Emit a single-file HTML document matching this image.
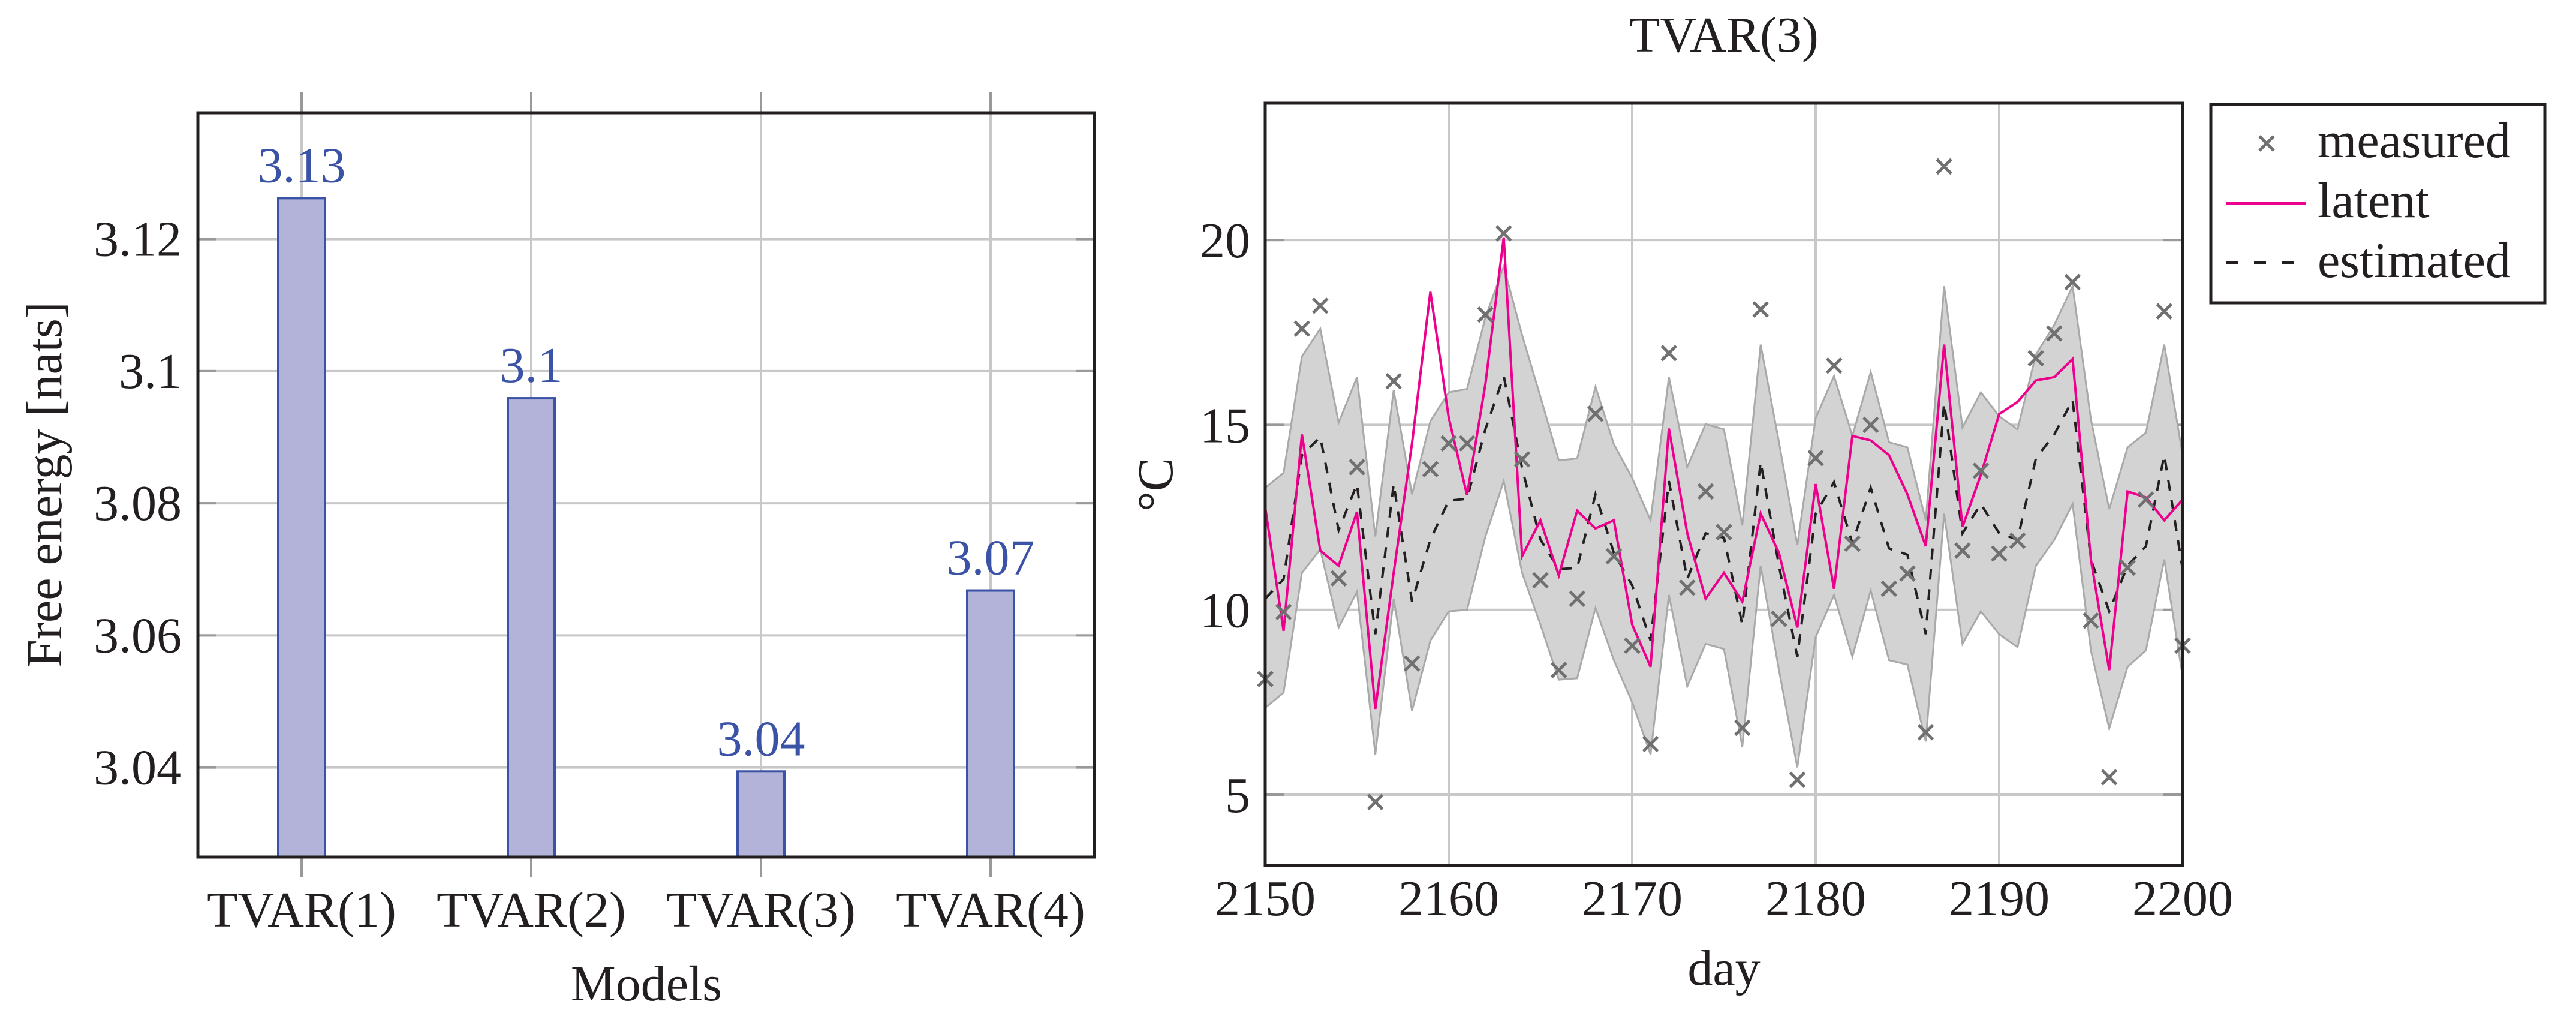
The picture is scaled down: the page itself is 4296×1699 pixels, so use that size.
<!DOCTYPE html>
<html><head><meta charset="utf-8"><style>
html,body{margin:0;padding:0;background:#fff;}
svg{display:block;font-family:"Liberation Serif","DejaVu Serif",serif;}
text{font-family:"Liberation Serif","DejaVu Serif",serif;}
</style></head><body>
<svg id="fig" width="4296" height="1699" viewBox="0 0 4296 1699" xmlns="http://www.w3.org/2000/svg"></svg>
<script>
// ---- bar chart data ----
const models = ["TVAR(1)","TVAR(2)","TVAR(3)","TVAR(4)"];
const freeEnergy = [3.1262, 3.0959, 3.0394, 3.0668];
const barLabels = ["3.13","3.1","3.04","3.07"];
const barYTicks = [3.04, 3.06, 3.08, 3.1, 3.12];
const barYTickLabels = ["3.04","3.06","3.08","3.1","3.12"];
// ---- time series data ----
const days = [];
for (let d = 2150; d <= 2200; d++) days.push(d);
const measured = [8.13,9.94,17.6,18.22,10.85,13.86,4.8,16.18,8.55,13.8,14.5,14.5,17.98,20.18,14.07,10.8,8.37,10.3,15.3,11.45,9.03,6.37,16.94,10.6,13.2,12.1,6.81,18.12,9.76,5.4,14.1,16.6,11.79,15.0,10.57,10.98,6.69,21.99,11.6,13.76,11.52,11.87,16.8,17.47,18.86,9.71,5.47,11.14,12.98,18.07,9.03];
const latent = [12.77,9.43,14.74,11.6,11.19,12.65,7.32,11.0,14.5,18.6,15.2,13.1,16.1,20.07,11.45,12.42,10.93,12.68,12.2,12.42,9.6,8.46,14.9,12.07,10.3,11.0,10.22,12.6,11.54,9.52,13.4,10.57,14.7,14.58,14.18,13.12,11.72,17.17,12.24,13.65,15.29,15.62,16.2,16.29,16.78,11.36,8.37,13.2,13.04,12.42,12.98];
const estimated = [10.3,10.83,14.18,14.67,12.15,13.4,9.34,13.4,10.22,11.9,12.95,13.0,14.88,16.32,13.83,11.9,11.1,11.13,13.12,11.54,10.66,9.17,13.48,10.83,12.07,11.95,9.6,14.0,11.19,8.73,12.6,13.45,11.8,13.3,11.66,11.49,9.34,15.59,12.07,12.86,12.07,11.9,14.09,14.74,15.67,11.36,9.96,11.19,11.72,14.18,11.1];
const upper = [13.3,13.7,16.85,17.6,15.06,16.29,11.98,15.94,13.12,15.1,15.88,15.97,17.9,19.28,17.43,15.76,14.04,14.09,16.03,14.48,13.56,12.42,16.29,13.86,15.02,14.88,12.28,17.17,14.53,11.75,15.18,16.32,14.7,16.43,14.53,14.39,12.42,18.75,14.93,15.88,15.23,14.88,16.9,17.7,18.75,15.15,12.72,14.39,14.79,17.17,14.18];
const lower = [7.35,7.76,11.0,11.63,9.52,10.49,6.09,10.3,7.27,9.17,9.96,10.0,11.98,13.48,11.0,9.6,8.11,8.15,10.05,8.64,7.5,6.09,10.4,7.93,9.08,8.94,6.3,11.19,8.37,5.74,9.26,10.4,8.73,10.52,8.64,8.52,6.44,12.6,9.08,9.96,9.34,8.99,11.19,11.89,12.86,8.9,6.79,8.46,8.9,11.36,8.2];
const tsXTicks = [2150,2160,2170,2180,2190,2200];
const tsYTicks = [5,10,15,20];

const NS = "http://www.w3.org/2000/svg";
const FONT = '"Liberation Serif","DejaVu Serif",serif';
const FS = 84;
const svg = document.getElementById('fig');
function mk(tag, attrs, parent) {
  const e = document.createElementNS(NS, tag);
  for (const k in attrs) e.setAttribute(k, attrs[k]);
  (parent || svg).appendChild(e);
  return e;
}
function txt(s, attrs, parent) {
  const e = mk('text', attrs, parent);
  e.setAttribute('font-family', FONT);
  if (!attrs['font-size']) e.setAttribute('font-size', FS);
  e.textContent = s;
  return e;
}

// ===== Left bar chart =====
const L = {x0:330, x1:1825, y0:188, y1:1429, vmin:3.02644, vmax:3.13913};
const bx = i => 503 + i * 383;
const by = v => L.y1 - (v - L.vmin) / (L.vmax - L.vmin) * (L.y1 - L.y0);
const gBar = mk('g', {});


models.forEach((m, i) => {
  const g = mk('line', {x1:bx(i), x2:bx(i), y1:L.y0, y2:L.y1, stroke:'#c8c8c8', 'stroke-width':4}, gBar);
  
  
  const t1 = mk('line', {x1:bx(i), x2:bx(i), y1:L.y0 - 34, y2:L.y0, stroke:'#999', 'stroke-width':4}, gBar);
  
  
  const t2 = mk('line', {x1:bx(i), x2:bx(i), y1:L.y1, y2:L.y1 + 34, stroke:'#999', 'stroke-width':4}, gBar);
  
  
  const lab = txt(m, {x:bx(i), y:1545, 'text-anchor':'middle', fill:'#231f20'}, gBar);
  
  
});
barYTicks.forEach((v, i) => {
  const g = mk('line', {x1:L.x0, x2:L.x1, y1:by(v), y2:by(v), stroke:'#c8c8c8', 'stroke-width':4}, gBar);
  
  
  const t1 = mk('line', {x1:L.x0, x2:L.x0 + 31, y1:by(v), y2:by(v), stroke:'#999', 'stroke-width':4}, gBar);
  
  
  const t2 = mk('line', {x1:L.x1 - 31, x2:L.x1, y1:by(v), y2:by(v), stroke:'#999', 'stroke-width':4}, gBar);
  
  
  const lab = txt(barYTickLabels[i], {x:303, y:by(v) + 28, 'text-anchor':'end', fill:'#231f20'}, gBar);
  
  
});
freeEnergy.forEach((v, i) => {
  const r = mk('rect', {x:bx(i) - 39, y:by(v), width:78, height:L.y1 - by(v), fill:'#b3b3d9', stroke:'#3b53a6', 'stroke-width':4}, gBar);
  
  
  const lab = txt(barLabels[i], {x:bx(i), y:by(v) - 27, 'text-anchor':'middle', fill:'#3b53a6'}, gBar);
  
  
});
const frameL = mk('rect', {x:L.x0, y:L.y0, width:L.x1 - L.x0, height:L.y1 - L.y0, fill:'none', stroke:'#231f20', 'stroke-width':5}, gBar);


const xtL = txt('Models', {x:1078, y:1668, 'text-anchor':'middle', fill:'#231f20'}, gBar);


const ytL = txt('Free energy [nats]', {x:0, y:0, 'text-anchor':'middle', fill:'#231f20', transform:'translate(102,808) rotate(-90)'}, gBar);



// ===== Right time-series chart =====
const R = {x0:2110, x1:3640, y0:172, y1:1443, dmin:2150, dmax:2200, vmin:3.086, vmax:23.7};
const sx = d => R.x0 + (d - R.dmin) / (R.dmax - R.dmin) * (R.x1 - R.x0);
const sy = v => R.y1 - (v - R.vmin) / (R.vmax - R.vmin) * (R.y1 - R.y0);
const gTs = mk('g', {});


const clipDef = mk('defs', {}, gTs);
const cp = mk('clipPath', {id:'clipR'}, clipDef);
mk('rect', {x:R.x0, y:R.y0, width:R.x1 - R.x0, height:R.y1 - R.y0}, cp);
tsXTicks.forEach(d => {
  const g = mk('line', {x1:sx(d), x2:sx(d), y1:R.y0, y2:R.y1, stroke:'#c8c8c8', 'stroke-width':4}, gTs);
  
  
  const lab = txt(String(d), {x:sx(d), y:1526, 'text-anchor':'middle', fill:'#231f20'}, gTs);
  
  
});
tsYTicks.forEach(v => {
  const g = mk('line', {x1:R.x0, x2:R.x1, y1:sy(v), y2:sy(v), stroke:'#c8c8c8', 'stroke-width':4}, gTs);
  
  
  const t1 = mk('line', {x1:R.x0, x2:R.x0 + 32, y1:sy(v), y2:sy(v), stroke:'#999', 'stroke-width':4}, gTs);
  
  
  const t2 = mk('line', {x1:R.x1 - 32, x2:R.x1, y1:sy(v), y2:sy(v), stroke:'#999', 'stroke-width':4}, gTs);
  
  
  const lab = txt(String(v), {x:2085, y:sy(v) + 29, 'text-anchor':'end', fill:'#231f20'}, gTs);
  
  
});
const gData = mk('g', {'clip-path':'url(#clipR)'}, gTs);


let bandD = days.map((d, i) => (i ? 'L' : 'M') + sx(d).toFixed(1) + ',' + sy(upper[i]).toFixed(1)).join(' ');
for (let i = days.length - 1; i >= 0; i--) bandD += ' L' + sx(days[i]).toFixed(1) + ',' + sy(lower[i]).toFixed(1);
bandD += ' Z';
const band = mk('path', {d:bandD, fill:'#d3d3d3', stroke:'#a9a9a9', 'stroke-width':3}, gData);


const lineD = arr => days.map((d, i) => (i ? 'L' : 'M') + sx(d).toFixed(1) + ',' + sy(arr[i]).toFixed(1)).join(' ');
const est = mk('path', {d:lineD(estimated), fill:'none', stroke:'#231f20', 'stroke-width':4, 'stroke-dasharray':'18 16'}, gData);


const lat = mk('path', {d:lineD(latent), fill:'none', stroke:'#ec008c', 'stroke-width':4}, gData);


const gMarks = mk('g', {stroke:'#707070', 'stroke-width':5}, gTs);


measured.forEach((v, i) => {
  const cx = sx(days[i]), cy = sy(v), s = 12;
  const m = mk('path', {d:`M${cx - s},${cy - s} L${cx + s},${cy + s} M${cx - s},${cy + s} L${cx + s},${cy - s}`}, gMarks);
  
  
});
const frameR = mk('rect', {x:R.x0, y:R.y0, width:R.x1 - R.x0, height:R.y1 - R.y0, fill:'none', stroke:'#231f20', 'stroke-width':5}, gTs);


const title = txt('TVAR(3)', {x:2875, y:86, 'text-anchor':'middle', fill:'#231f20'}, gTs);


const xtR = txt('day', {x:2875, y:1642, 'text-anchor':'middle', fill:'#231f20'}, gTs);


const ytR = txt('°C', {x:0, y:0, 'text-anchor':'middle', fill:'#231f20', transform:'translate(1955,808) rotate(-90)'}, gTs);



// legend
const gLeg = mk('g', {}, svg);


mk('rect', {x:3687, y:174, width:557, height:331, fill:'#fff', stroke:'#231f20', 'stroke-width':5}, gLeg);
const lm = mk('path', {d:'M3768,227 L3792,251 M3768,251 L3792,227', stroke:'#707070', 'stroke-width':5}, gLeg);


const l1 = txt('measured', {x:3865, y:262, fill:'#231f20'}, gLeg);


const ll = mk('line', {x1:3712, x2:3846, y1:339, y2:339, stroke:'#ec008c', 'stroke-width':5}, gLeg);


const l2 = txt('latent', {x:3865, y:362, fill:'#231f20'}, gLeg);


const le = mk('line', {x1:3712, x2:3832, y1:438, y2:438, stroke:'#231f20', 'stroke-width':5, 'stroke-dasharray':'20 27'}, gLeg);


const l3 = txt('estimated', {x:3865, y:462, fill:'#231f20'}, gLeg);


</script>
</body></html>
